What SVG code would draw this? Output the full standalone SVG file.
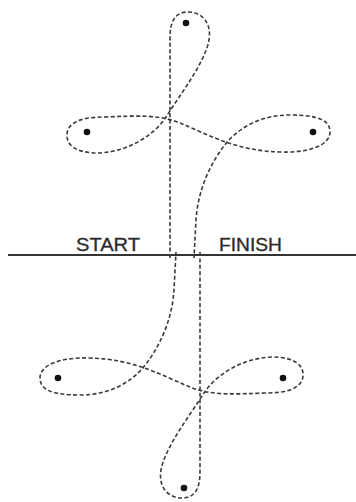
<svg xmlns="http://www.w3.org/2000/svg" width="356" height="502" viewBox="0 0 356 502">
<style>
.loop{fill:none;stroke:#3a3a3a;stroke-width:1.6;stroke-dasharray:4 2.4;stroke-linecap:butt}
.dot{fill:#111}
.lbl{font-family:"Liberation Sans",Arial,sans-serif;font-size:18px;fill:#2a2a2a;stroke:#2a2a2a;stroke-width:0.3}
</style>
<rect width="356" height="502" fill="#fff"/>
<g id="baseline"><line x1="8" y1="255" x2="356" y2="255" stroke="#333" stroke-width="2.2"/></g>
<g id="connectors">
<g id="upper-path">
<path id="upper" class="loop" d="M170 258 L170 38 C170 20 176 12 188 12 C201 12 212 22 209 40 C205 62 182 92 166 117 C156 133 130 152 98 153 C76 153 66 145 67 134 C68 122 82 117 105 117 C135 116 158 114 180 123 C205 133 235 151 280 152 C310 153 330 145 330 132 C330 120 318 115 290 115 C262 115 242 126 228 141 C212 160 198 188 196 220 L194 258"/>
</g>
<g id="lower-path"><use href="#upper" transform="rotate(180 185 255)"/></g>
</g>
<g id="dot-top"><circle class="dot" cx="186" cy="23" r="3.3"/></g>
<g id="dot-upper-left"><circle class="dot" cx="87" cy="132" r="3.3"/></g>
<g id="dot-upper-right"><circle class="dot" cx="313" cy="132" r="3.3"/></g>
<g id="dot-lower-left"><circle class="dot" cx="58" cy="378" r="3.3"/></g>
<g id="dot-lower-right"><circle class="dot" cx="283" cy="378" r="3.3"/></g>
<g id="dot-bottom"><circle class="dot" cx="184" cy="488" r="3.3"/></g>
<g id="label-start"><text class="lbl" x="76" y="251" textLength="64" lengthAdjust="spacingAndGlyphs">START</text></g>
<g id="label-finish"><text class="lbl" x="219" y="251" textLength="63" lengthAdjust="spacingAndGlyphs">FINISH</text></g>
</svg>
